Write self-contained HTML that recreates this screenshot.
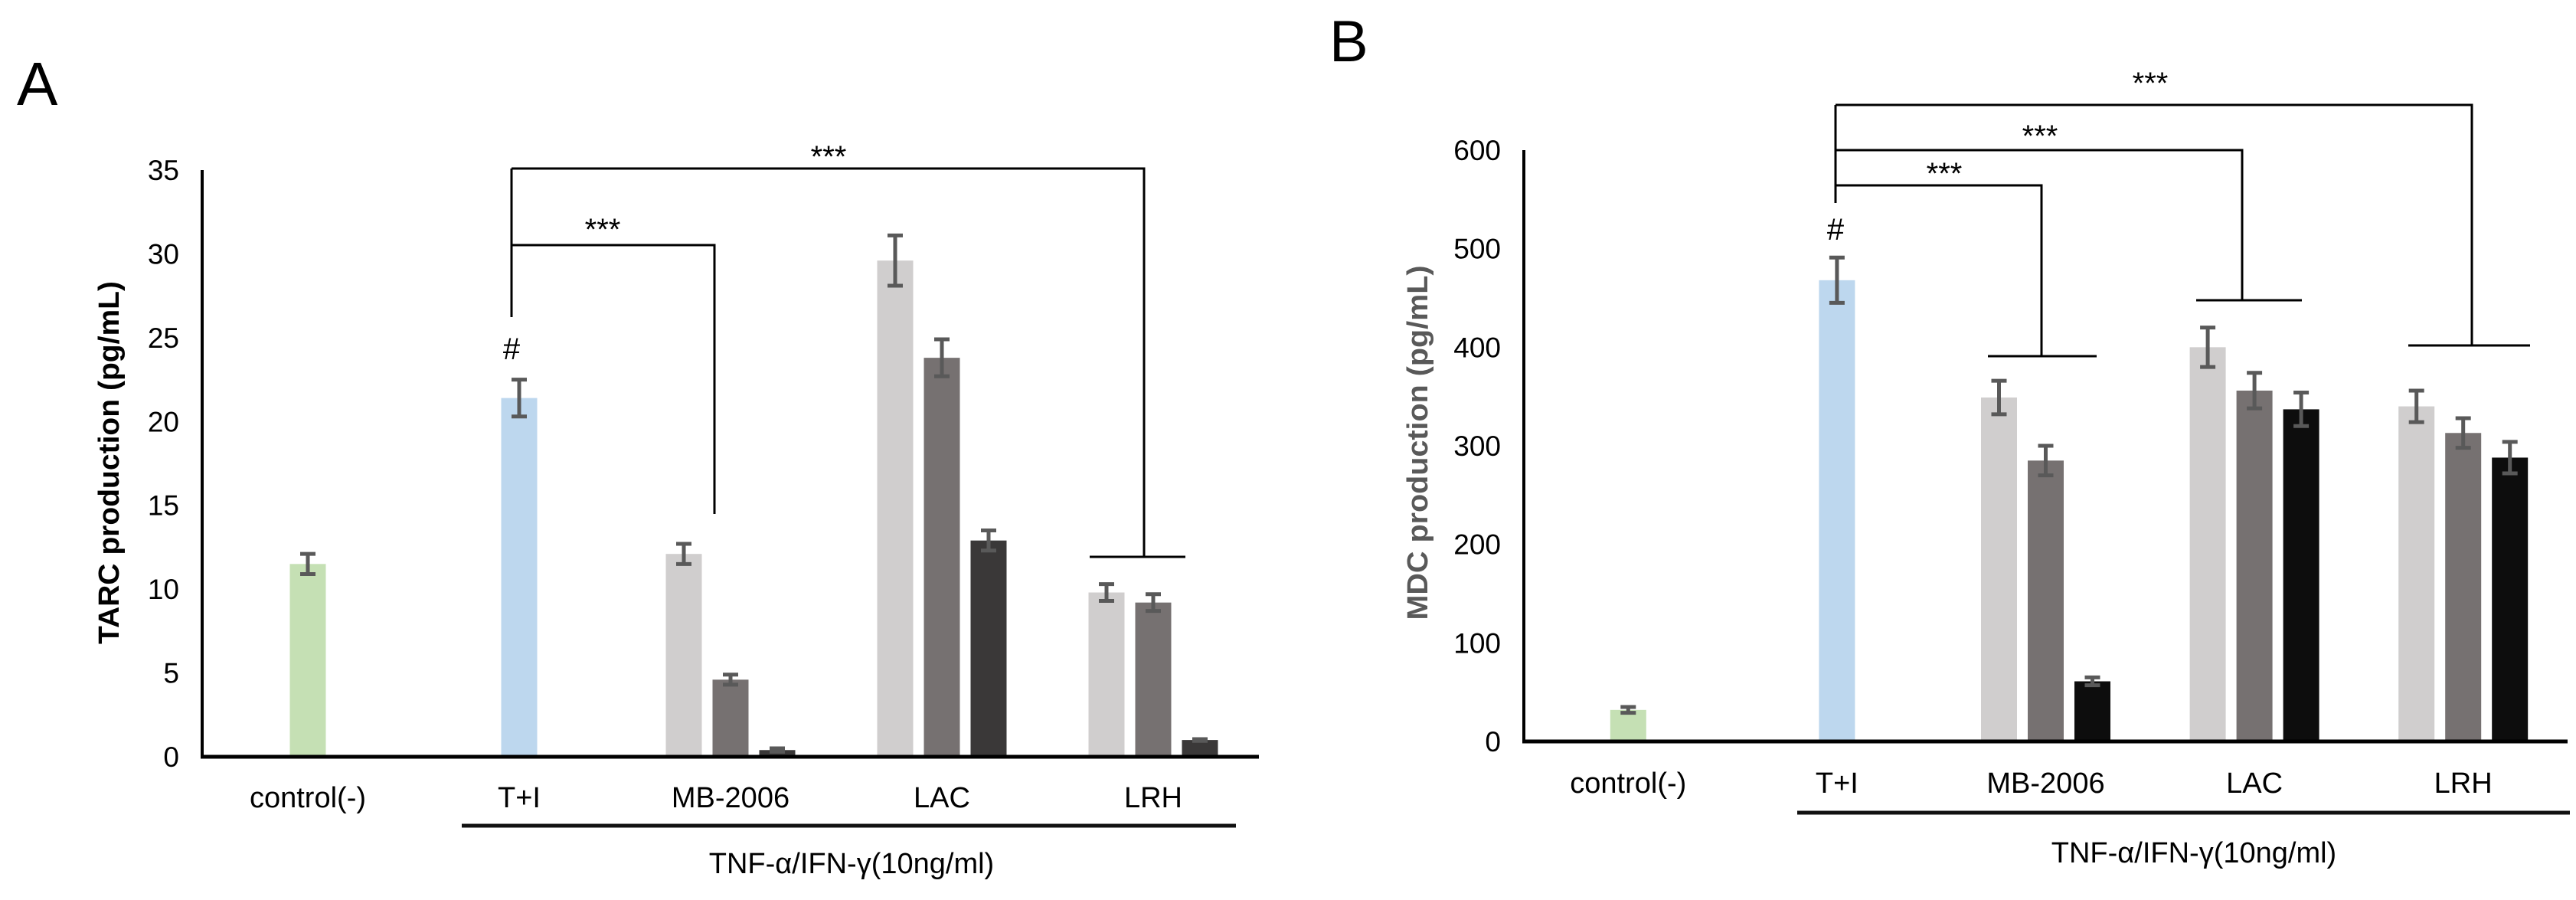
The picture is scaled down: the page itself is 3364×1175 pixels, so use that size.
<!DOCTYPE html>
<html><head><meta charset="utf-8"><style>
html,body{margin:0;padding:0;background:#fff;}
svg{display:block;}
text{font-family:"Liberation Sans",sans-serif;}
</style></head>
<body>
<svg id="fig" width="3364" height="1175" viewBox="0 0 3364 1175" xmlns="http://www.w3.org/2000/svg">
<text x="22" y="137" font-size="80" fill="#000">A</text>
<text x="1736" y="80" font-size="76" fill="#000">B</text>
</svg>
<script>
const categories = ["control(-)", "T+I", "MB-2006", "LAC", "LRH"];
const tarcValues = [[11.5],[21.4],[12.1,4.6,0.4],[29.6,23.8,12.9],[9.8,9.2,1.0]];
const tarcErrors = [[0.6],[1.1],[0.6,0.3,0.1],[1.5,1.1,0.6],[0.5,0.5,0.05]];
const tarcTicks = [0,5,10,15,20,25,30,35];
const mdcValues = [[32],[468],[349,285,61],[400,356,337],[340,313,288]];
const mdcErrors = [[3],[23],[17,15,4],[20,18,17],[16,15,16]];
const mdcTicks = [0,100,200,300,400,500,600];

const NS = "http://www.w3.org/2000/svg";
const svg = document.getElementById('fig');
function mk(tag, attrs, parent, txt){
  const e = document.createElementNS(NS, tag);
  for (const k in attrs) e.setAttribute(k, attrs[k]);
  if (txt !== undefined) e.textContent = txt;
  (parent || svg).appendChild(e);
  return e;
}

function panel(cfg){
  const g = mk('g', {});
  
  
  const x0 = cfg.x0, x1 = cfg.x1, y0 = cfg.y0, yTop = cfg.yTop, max = cfg.ticks[cfg.ticks.length-1];
  const yS = v => y0 - (v / max) * (y0 - yTop);
  const band = (x1 - x0) / categories.length;
  const cx = i => x0 + band * (i + 0.5);
  const bw = 47, step = 61;
  const darkCol = cfg.dark;
  const multiCols = ["#d0cece", "#767171", darkCol];
  const singleCols = ["#c5e0b4", "#bdd7ee"];
  // ticks
  cfg.ticks.forEach(t => {
    const tl = mk('text', {x: x0 - 30, y: yS(t) + 13, 'font-size': 37, 'text-anchor': 'end', fill: '#000'}, g, String(t));
    
    
  });
  // bars
  cfg.values.forEach((grp, i) => {
    grp.forEach((v, j) => {
      const n = grp.length;
      const bx = cx(i) + (j - (n - 1) / 2) * step - bw / 2;
      const col = n === 1 ? singleCols[i] : multiCols[j];
      const r = mk('rect', {x: bx, y: yS(v), width: bw, height: y0 - yS(v), fill: col}, g);
      
      
      const e = cfg.errors[i][j];
      const ex = bx + bw / 2;
      const eb = mk('path', {d: `M${ex} ${yS(v+e)}V${yS(v-e)}M${ex-10} ${yS(v+e)}H${ex+10}M${ex-10} ${yS(v-e)}H${ex+10}`, stroke: '#595959', 'stroke-width': 5, fill: 'none'}, g);
      
      
    });
  });
  // axes
  const ya = mk('line', {x1: x0, y1: yTop, x2: x0, y2: y0, stroke: '#000', 'stroke-width': 4}, g);
  
  
  const xa = mk('line', {x1: x0 - 2, y1: y0, x2: x1, y2: y0, stroke: '#000', 'stroke-width': 5}, g);
  
  
  // category labels
  categories.forEach((c, i) => {
    const t = mk('text', {x: cx(i), y: cfg.catY + 13, 'font-size': 38, 'text-anchor': 'middle', fill: '#000'}, g, c);
    
    
  });
  const ul = mk('line', {x1: cfg.ulX0, y1: cfg.ulY, x2: cfg.ulX1, y2: cfg.ulY, stroke: '#111', 'stroke-width': 5}, g);
  
  
  const tn = mk('text', {x: cfg.tnfX, y: cfg.tnfY + 14, 'font-size': 38, 'text-anchor': 'middle', fill: '#000'}, g, "TNF-α/IFN-γ(10ng/ml)");
  
  
  // y title
  const yt = mk('text', {x: 0, y: 0, 'font-size': 38, 'font-weight': 'bold', 'text-anchor': 'middle', fill: cfg.titleCol,
    transform: `translate(${cfg.titleX + 14},${cfg.titleY}) rotate(-90)`, textLength: cfg.titleLen, lengthAdjust: 'spacingAndGlyphs'}, g, cfg.title);
  
  
  // brackets
  cfg.brackets.forEach(b => {
    let d = `M${cfg.bx} ${b.y}H${b.xr}V${b.yd}`;
    if (b.cap) d += `M${b.cap[0]} ${b.yd}H${b.cap[1]}`;
    const p = mk('path', {d, stroke: '#000', 'stroke-width': 3, fill: 'none'}, g);
    
    
    const s = mk('text', {x: b.sx, y: b.sy + 18, 'font-size': 40, 'text-anchor': 'middle', fill: '#000'}, g, '***');
    
    
  });
  const lv = mk('line', {x1: cfg.bx, y1: cfg.bTop, x2: cfg.bx, y2: cfg.bBot, stroke: '#000', 'stroke-width': 3}, g);
  
  
  const h = mk('text', {x: cfg.bx, y: cfg.hashY + 15, 'font-size': 40, 'text-anchor': 'middle', fill: '#000'}, g, '#');
  
  
}

panel({name: 'tarc-chart', x0: 264, x1: 1644, y0: 988, yTop: 222, ticks: tarcTicks, values: tarcValues, errors: tarcErrors,
  dark: '#3a3838', catY: 1041, ulX0: 603, ulX1: 1614, ulY: 1078, tnfX: 1112, tnfY: 1126,
  title: 'TARC production (pg/mL)', titleCol: '#000', titleX: 141, titleY: 604, titleLen: 474,
  bx: 668, bTop: 220, bBot: 414, hashY: 454,
  brackets: [
    {y: 220, xr: 1494, yd: 727, cap: [1423, 1548], sx: 1082, sy: 200},
    {y: 320, xr: 933, yd: 671, cap: null, sx: 787, sy: 295}
  ]});

panel({name: 'mdc-chart', x0: 1990, x1: 3353, y0: 968, yTop: 196, ticks: mdcTicks, values: mdcValues, errors: mdcErrors,
  dark: '#0d0d0d', catY: 1022, ulX0: 2347, ulX1: 3356, ulY: 1061, tnfX: 2865, tnfY: 1112,
  title: 'MDC production (pg/mL)', titleCol: '#595959', titleX: 1850, titleY: 578, titleLen: 463,
  bx: 2397, bTop: 137, bBot: 265, hashY: 298,
  brackets: [
    {y: 137, xr: 3228, yd: 451, cap: [3145, 3304], sx: 2808, sy: 104},
    {y: 196, xr: 2928, yd: 392, cap: [2868, 3006], sx: 2664, sy: 173},
    {y: 242, xr: 2666, yd: 465, cap: [2596, 2738], sx: 2539, sy: 222}
  ]});
</script>
</body></html>
